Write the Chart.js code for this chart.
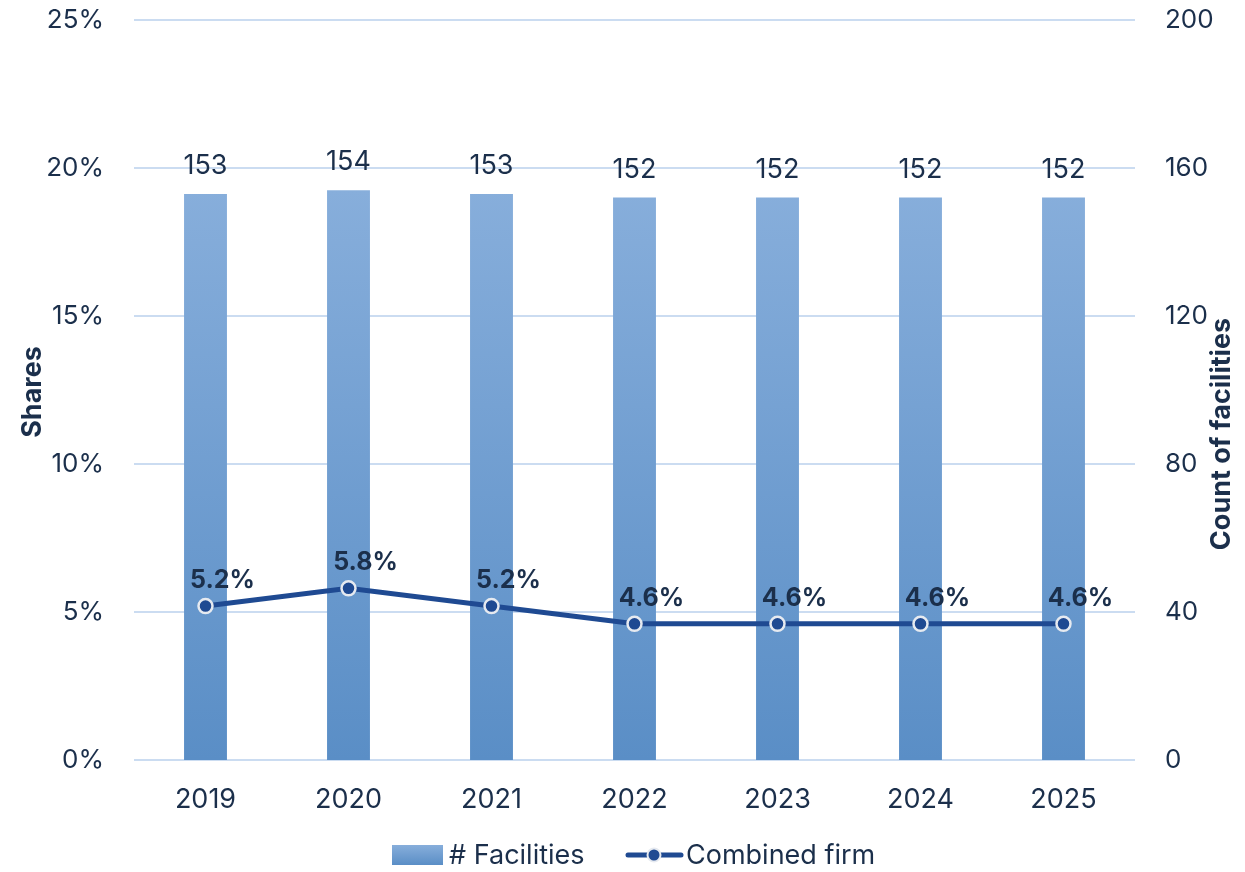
<!DOCTYPE html>
<html>
<head>
<meta charset="utf-8">
<script src="https://cdn.jsdelivr.net/npm/chart.js@4"></script>
<style>
  html, body { margin: 0; padding: 0; background: #fff; }
  #wrap { width: 1245px; height: 872px; }
</style>
</head>
<body>
<div id="wrap"><canvas id="myChart" width="1245" height="872"></canvas></div>
<script>
const years = ['2019', '2020', '2021', '2022', '2023', '2024', '2025'];
const facilities = [153, 154, 153, 152, 152, 152, 152];
const combinedShare = [5.2, 5.8, 5.2, 4.6, 4.6, 4.6, 4.6];
const shareTicks = [0, 5, 10, 15, 20, 25];
const countTicks = [0, 40, 80, 120, 160, 200];

const textColor = '#1b2f4b';
const gridColor = '#cbdcf1';
const lineColor = '#1f4a92';
const fontFamily = 'Inter, "Open Sans", sans-serif';

// vertical gradient for the bars, light at the top
function barFill(ctx) {
  const chart = ctx.chart;
  const area = chart.chartArea;
  if (!area) return '#6f9fd2';
  const y = chart.scales.y1;
  const g = chart.ctx.createLinearGradient(0, y.getPixelForValue(154), 0, area.bottom);
  g.addColorStop(0, '#87aedb');
  g.addColorStop(1, '#5a8ec6');
  return g;
}

function drawVertical(c, text, x, y) {
  c.save();
  c.translate(x, y);
  c.rotate(-Math.PI / 2);
  c.textAlign = 'center';
  c.textBaseline = 'middle';
  c.fillText(text, 0, 0);
  c.restore();
}

// value labels, axis titles and the legend
const labelsPlugin = {
  id: 'labels',
  afterDatasetsDraw(chart) {
    const c = chart.ctx;
    c.save();
    c.fillStyle = textColor;
    c.textAlign = 'center';
    c.textBaseline = 'alphabetic';

    c.font = '27px ' + fontFamily;
    chart.getDatasetMeta(1).data.forEach((bar, i) => {
      c.fillText(String(facilities[i]), bar.x, bar.y - 20);
    });

    c.font = 'bold 25px ' + fontFamily;
    chart.getDatasetMeta(0).data.forEach((pt, i) => {
      c.fillText(combinedShare[i].toFixed(1) + '%', pt.x + 17, pt.y - 18);
    });

    // axis titles
    c.font = 'bold 27px ' + fontFamily;
    drawVertical(c, 'Shares', 33, 392);
    drawVertical(c, 'Count of facilities', 1222, 434);

    // legend
    const ly = 855;
    const g = c.createLinearGradient(0, ly - 10, 0, ly + 10);
    g.addColorStop(0, '#87aedb');
    g.addColorStop(1, '#5a8ec6');
    c.fillStyle = g;
    c.fillRect(392, ly - 10, 51, 20);
    c.fillStyle = textColor;
    c.textAlign = 'left';
    c.textBaseline = 'middle';
    c.font = '27px ' + fontFamily;
    c.fillText('# Facilities', 449, ly + 1);

    c.strokeStyle = lineColor;
    c.lineWidth = 5;
    c.lineCap = 'round';
    c.beginPath();
    c.moveTo(628, ly);
    c.lineTo(681, ly);
    c.stroke();
    c.beginPath();
    c.arc(654, ly, 6.5, 0, Math.PI * 2);
    c.fillStyle = lineColor;
    c.fill();
    c.lineWidth = 2;
    c.strokeStyle = '#e6eaf0';
    c.stroke();
    c.fillStyle = textColor;
    c.fillText('Combined firm', 686, ly + 1);
    c.restore();
  }
};

new Chart('myChart', {
  data: {
    labels: years,
    datasets: [
      {
        type: 'line',
        label: 'Combined firm',
        data: combinedShare,
        yAxisID: 'y',
        borderColor: lineColor,
        borderWidth: 5,
        pointRadius: 7,
        pointBackgroundColor: lineColor,
        pointBorderColor: '#e6eaf0',
        pointBorderWidth: 2.5,
        tension: 0,
        order: 0
      },
      {
        type: 'bar',
        label: '# Facilities',
        data: facilities,
        yAxisID: 'y1',
        backgroundColor: barFill,
        barPercentage: 0.6,
        categoryPercentage: 0.5,
        order: 1
      }
    ]
  },
  options: {
    responsive: false,
    animation: false,
    layout: { padding: { top: 20, bottom: 60, left: 0, right: 0 } },
    plugins: {
      legend: { display: false },
      tooltip: { enabled: false }
    },
    scales: {
      x: {
        grid: { display: false, drawTicks: false },
        border: { display: false },
        ticks: { color: textColor, font: { family: fontFamily, size: 27 }, padding: 24 },
        afterFit(s) { s.height = 52; }
      },
      y: {
        position: 'left',
        min: 0,
        max: 25,
        afterBuildTicks(s) { s.ticks = shareTicks.map(v => ({ value: v })); },
        ticks: {
          color: textColor,
          font: { family: fontFamily, size: 26 },
          padding: 30,
          callback: v => v + '%'
        },
        grid: { color: gridColor, lineWidth: 2, drawTicks: false },
        border: { display: false },
        afterFit(s) { s.width = 134; s.paddingTop = 0; s.paddingBottom = 0; }
      },
      y1: {
        position: 'right',
        min: 0,
        max: 200,
        afterBuildTicks(s) { s.ticks = countTicks.map(v => ({ value: v })); },
        ticks: {
          color: textColor,
          font: { family: fontFamily, size: 26 },
          padding: 30
        },
        grid: { display: false, drawTicks: false },
        border: { display: false },
        afterFit(s) { s.width = 110; s.paddingTop = 0; s.paddingBottom = 0; }
      }
    }
  },
  plugins: [labelsPlugin]
});
</script>
</body>
</html>
